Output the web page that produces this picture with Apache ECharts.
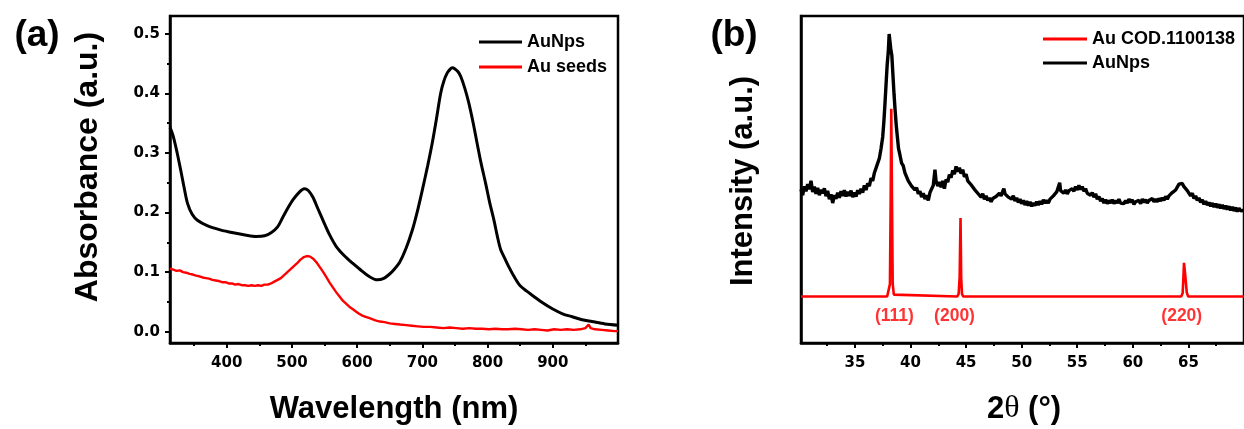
<!DOCTYPE html>
<html><head><meta charset="utf-8">
<script src="https://cdn.jsdelivr.net/npm/echarts@6/dist/echarts.min.js"></script>
<style>html,body{margin:0;padding:0;background:#fff}#c{width:1244px;height:429px}</style>
</head><body><div id="c"></div>
<script>
const uvTicks = [400,500,600,700,800,900];
const uvMinorTicks = [350,450,550,650,750,850,950];
const absTicks = [0,0.1,0.2,0.3,0.4,0.5];
const absMinorTicks = [0.05,0.15,0.25,0.35,0.45];
const xrdTicks = [35,40,45,50,55,60,65];
const xrdMinorTicks = [32.5,37.5,42.5,47.5,52.5,57.5,62.5,67.5];

const auNpsUv = [
[313,0.343],[318,0.328],[324,0.300],[330,0.268],[335,0.240],[340,0.215],[347,0.197],[355,0.187],[370,0.178],[390,0.171],[410,0.166],[430,0.162],[445,0.160],[458,0.161],[468,0.166],[478,0.176],[486,0.192],[494,0.208],[502,0.222],[511,0.234],[519,0.240],[525,0.237],[532,0.226],[540,0.206],[548,0.186],[558,0.162],[568,0.143],[580,0.128],[593,0.115],[605,0.104],[618,0.093],[631,0.087],[640,0.089],[649,0.096],[657,0.105],[665,0.116],[675,0.140],[685,0.172],[693,0.205],[700,0.238],[708,0.278],[715,0.316],[722,0.360],[728,0.400],[733,0.421],[738,0.434],[742,0.440],[746,0.443],[750,0.441],[755,0.436],[759,0.428],[765,0.409],[771,0.385],[778,0.350],[784,0.316],[790,0.283],[797,0.249],[803,0.218],[810,0.186],[815,0.160],[820,0.138],[826,0.124],[833,0.108],[842,0.090],[850,0.077],[860,0.068],[870,0.060],[885,0.048],[900,0.038],[915,0.030],[930,0.025],[945,0.020],[960,0.017],[980,0.013],[1000,0.011]
];
const auSeedsUv = [
[313,0.106],[318,0.104],[323,0.102],[328,0.103],[333,0.100],[338,0.099],[343,0.097],[348,0.096],[353,0.094],[358,0.093],[363,0.091],[368,0.090],[373,0.089],[378,0.087],[383,0.086],[388,0.085],[393,0.083],[398,0.083],[403,0.081],[408,0.081],[413,0.079],[418,0.080],[423,0.078],[428,0.078],[433,0.077],[438,0.078],[443,0.077],[448,0.078],[453,0.077],[458,0.079],[463,0.079],[468,0.081],[473,0.084],[478,0.087],[483,0.090],[488,0.095],[493,0.100],[498,0.105],[503,0.110],[508,0.115],[513,0.121],[518,0.125],[523,0.127],[528,0.126],[533,0.122],[538,0.116],[543,0.108],[548,0.100],[553,0.091],[558,0.082],[563,0.074],[568,0.066],[573,0.059],[578,0.052],[583,0.047],[588,0.042],[593,0.038],[598,0.034],[603,0.030],[608,0.027],[613,0.025],[618,0.023],[623,0.021],[628,0.019],[635,0.017],[642,0.016],[650,0.014],[658,0.013],[666,0.012],[675,0.011],[684,0.010],[693,0.009],[702,0.008],[712,0.008],[722,0.007],[732,0.006],[742,0.007],[752,0.006],[762,0.005],[772,0.006],[782,0.005],[792,0.005],[802,0.004],[812,0.005],[822,0.004],[832,0.004],[842,0.005],[852,0.004],[862,0.003],[872,0.004],[882,0.003],[892,0.002],[902,0.004],[912,0.003],[922,0.004],[932,0.003],[942,0.004],[950,0.006],[955,0.012],[958,0.006],[965,0.004],[975,0.003],[985,0.002],[995,0.001],[1000,0.001]
];

const auNpsXrd = [
[30.15,47.0],[30.3,45.2],[30.45,47.9],[30.6,46.4],[30.75,48.6],[30.9,47.0],[31.05,49.6],[31.2,46.2],[31.35,47.8],[31.5,45.6],[31.65,47.4],[31.8,45.2],[31.95,46.9],[32.1,45.8],[32.25,47.3],[32.4,44.9],[32.55,46.5],[32.7,44.0],[32.85,45.5],[33.0,42.8],[33.15,45.2],[33.3,44.1],[33.45,46.0],[33.6,44.4],[33.75,46.4],[33.9,45.0],[34.05,46.7],[34.2,44.8],[34.35,46.2],[34.5,45.0],[34.65,46.6],[34.8,44.6],[34.95,46.0],[35.1,44.8],[35.25,46.7],[35.4,45.6],[35.55,47.2],[35.7,46.0],[35.85,48.2],[36.0,46.8],[36.15,48.8],[36.3,48.0],[36.45,50.4],[36.6,49.6],[36.75,52.0],[36.9,52.4],[37.05,55.0],[37.2,56.5],[37.35,59.5],[37.5,63.0],[37.6,67.5],[37.7,73.0],[37.8,79.0],[37.9,85.0],[38.0,89.0],[38.08,94.5],[38.16,92.0],[38.24,89.5],[38.32,88.0],[38.42,82.0],[38.52,76.0],[38.62,71.0],[38.72,66.5],[38.82,63.0],[38.92,59.5],[39.05,57.5],[39.2,55.0],[39.35,54.2],[39.5,52.0],[39.65,51.5],[39.8,49.6],[39.95,50.2],[40.1,48.0],[40.25,48.6],[40.4,46.8],[40.55,47.5],[40.7,45.6],[40.85,46.4],[41.0,44.6],[41.15,45.8],[41.3,44.0],[41.45,45.2],[41.6,43.6],[41.75,46.0],[41.9,46.6],[42.05,48.2],[42.2,53.0],[42.3,49.5],[42.45,48.0],[42.6,49.2],[42.75,47.6],[42.9,49.6],[43.05,47.2],[43.2,50.0],[43.35,49.2],[43.5,51.5],[43.65,50.6],[43.8,52.8],[43.95,51.6],[44.1,54.0],[44.25,52.4],[44.4,53.6],[44.55,51.8],[44.7,53.0],[44.85,50.8],[45.0,51.6],[45.15,49.6],[45.3,50.2],[45.45,48.4],[45.6,49.0],[45.75,47.0],[45.9,47.6],[46.05,45.8],[46.2,46.4],[46.35,44.6],[46.5,45.6],[46.65,44.0],[46.8,45.0],[46.95,43.6],[47.1,44.4],[47.25,43.2],[47.4,44.2],[47.55,43.6],[47.7,44.8],[47.85,44.6],[48.0,45.8],[48.15,45.0],[48.3,46.4],[48.4,47.2],[48.5,45.6],[48.65,46.0],[48.8,44.6],[48.95,45.2],[49.1,44.0],[49.25,45.0],[49.4,43.4],[49.55,44.4],[49.7,43.0],[49.85,44.0],[50.0,42.6],[50.15,43.6],[50.3,42.2],[50.45,43.4],[50.6,42.0],[50.75,43.2],[50.9,41.8],[51.05,42.8],[51.2,42.0],[51.35,43.2],[51.5,42.2],[51.65,43.4],[51.8,42.4],[51.95,43.8],[52.1,42.8],[52.25,43.6],[52.4,42.8],[52.55,44.0],[52.7,43.6],[52.85,45.0],[53.0,44.6],[53.15,46.2],[53.3,45.6],[53.42,49.0],[53.5,46.6],[53.65,47.2],[53.8,45.8],[53.95,46.8],[54.1,45.6],[54.25,46.6],[54.4,46.0],[54.55,47.2],[54.7,46.4],[54.85,47.8],[55.0,46.8],[55.15,48.2],[55.3,47.0],[55.45,47.8],[55.6,46.4],[55.75,47.2],[55.9,45.8],[56.05,46.4],[56.2,45.2],[56.35,46.0],[56.5,44.6],[56.65,45.6],[56.8,44.0],[56.95,44.8],[57.1,43.4],[57.25,44.2],[57.4,42.8],[57.55,43.8],[57.7,42.6],[57.85,43.6],[58.0,42.8],[58.15,43.8],[58.3,42.6],[58.45,43.6],[58.6,42.8],[58.75,44.0],[58.9,42.8],[59.05,43.4],[59.2,42.6],[59.35,43.6],[59.5,42.8],[59.65,44.0],[59.8,43.0],[59.95,43.8],[60.1,42.4],[60.25,43.2],[60.4,42.6],[60.55,43.6],[60.7,42.6],[60.85,44.0],[61.0,43.0],[61.15,43.8],[61.3,42.8],[61.45,43.6],[61.6,43.0],[61.75,44.2],[61.9,43.2],[62.05,44.0],[62.2,43.2],[62.35,44.2],[62.5,43.4],[62.65,44.4],[62.8,43.6],[62.95,44.8],[63.1,44.0],[63.25,45.0],[63.4,44.8],[63.55,46.0],[63.7,45.6],[63.85,46.8],[64.0,47.0],[64.15,48.6],[64.3,48.2],[64.45,48.8],[64.6,47.8],[64.75,48.2],[64.9,46.6],[65.05,46.4],[65.2,45.0],[65.35,45.8],[65.5,44.2],[65.65,45.0],[65.8,43.6],[65.95,44.4],[66.1,43.0],[66.25,43.8],[66.4,42.4],[66.55,43.4],[66.7,42.2],[66.85,43.0],[67.0,41.8],[67.15,42.8],[67.3,41.6],[67.45,42.6],[67.6,41.4],[67.75,42.4],[67.9,41.2],[68.05,42.2],[68.2,41.0],[68.35,42.0],[68.5,40.8],[68.65,41.8],[68.8,40.6],[68.95,41.6],[69.1,40.4],[69.25,41.4],[69.4,40.2],[69.55,41.2],[69.7,40.4],[69.85,41.0],[70.0,40.6]
];
const auCodXrd = [
[30.15,14.2],[37.9,14.2],[38.05,14.8],[38.15,18],[38.22,45],[38.27,71.6],[38.33,45],[38.4,18],[38.5,14.8],[38.65,14.2],
[44.2,14.2],[44.33,15],[44.42,20],[44.5,38.2],[44.56,20],[44.63,15],[44.75,14.2],
[64.35,14.2],[64.48,15.2],[64.55,20],[64.6,24.5],[64.68,22],[64.76,19],[64.85,15.5],[64.98,14.2],[70,14.2]
];
const hklLabels = ['(111)','(200)','(220)'];
const hklAngles = [38.55,43.96,64.4];
const hklLabelLevel = 8.3;

const BOLD = 'Liberation Sans, Arial, sans-serif';
const TICKF = 'DejaVu Sans, sans-serif';

function mainX(grid, min, max, ticks, fmt) {
  return {
    type:'value', gridIndex:grid, min:min, max:max, position:'bottom',
    axisLine:{show:true, onZero:false, lineStyle:{color:'#000', width:2.5}},
    axisTick:{show:true, customValues:ticks, length:5, lineStyle:{color:'#000', width:2}},
    axisLabel:{show:true, customValues:ticks, margin:13, color:'#000', fontFamily:TICKF, fontWeight:'bold', fontSize:15, formatter:fmt},
    splitLine:{show:false}
  };
}
function minorX(grid, min, max, ticks) {
  return {
    type:'value', gridIndex:grid, min:min, max:max, position:'bottom',
    axisLine:{show:false, onZero:false},
    axisTick:{show:true, customValues:ticks, length:3, lineStyle:{color:'#000', width:2}},
    axisLabel:{show:false}, splitLine:{show:false}
  };
}

const chart = echarts.init(document.getElementById('c'), null, {renderer:'canvas'});
chart.setOption({
  animation:false,
  backgroundColor:'#fff',
  grid:[
    {left:170, right:626, top:16, bottom:86, show:true, borderColor:'#000', borderWidth:2.5, backgroundColor:'transparent'},
    {left:801, right:-7.7, top:16, bottom:86, show:true, borderColor:'#000', borderWidth:2.5, backgroundColor:'transparent'}
  ],
  xAxis:[
    mainX(0, 313, 1000, uvTicks, v => String(v)),
    minorX(0, 313, 1000, uvMinorTicks),
    mainX(1, 30.15, 70, xrdTicks, v => String(v)),
    minorX(1, 30.15, 70, xrdMinorTicks)
  ],
  yAxis:[
    {type:'value', gridIndex:0, min:-0.019, max:0.53, position:'left',
     axisLine:{show:true, onZero:false, lineStyle:{color:'#000', width:2.5}},
     axisTick:{show:true, customValues:absTicks, length:5, lineStyle:{color:'#000', width:2}},
     axisLabel:{show:true, customValues:absTicks, margin:10, color:'#000', fontFamily:TICKF, fontWeight:'bold', fontSize:15, formatter:v => v.toFixed(1)},
     splitLine:{show:false}},
    {type:'value', gridIndex:0, min:-0.019, max:0.53, position:'left',
     axisLine:{show:false, onZero:false},
     axisTick:{show:true, customValues:absMinorTicks, length:3, lineStyle:{color:'#000', width:2}},
     axisLabel:{show:false}, splitLine:{show:false}},
    {type:'value', gridIndex:1, min:0, max:100, position:'left',
     axisLine:{show:true, onZero:false, lineStyle:{color:'#000', width:2.5}},
     axisTick:{show:false}, axisLabel:{show:false}, splitLine:{show:false}}
  ],
  legend:[
    {data:['AuNps','Au seeds'], orient:'vertical', left:479, top:33, padding:0, itemWidth:43, itemHeight:3, itemGap:7, icon:'rect', selectedMode:false,
     textStyle:{fontFamily:BOLD, fontWeight:'bold', fontSize:18, color:'#000'}},
    {data:['Au COD.1100138','AuNps'], orient:'vertical', left:1043, top:30, padding:0, itemWidth:44, itemHeight:3, itemGap:6, icon:'rect', selectedMode:false,
     textStyle:{fontFamily:BOLD, fontWeight:'bold', fontSize:18, color:'#000'}}
  ],
  series:[
    {type:'line', name:'AuNps', xAxisIndex:0, yAxisIndex:0, data:auNpsUv, smooth:0.3, symbol:'none',
     itemStyle:{color:'#000'}, lineStyle:{color:'#000', width:3}},
    {type:'line', name:'Au seeds', xAxisIndex:0, yAxisIndex:0, data:auSeedsUv, symbol:'none',
     itemStyle:{color:'#ff0000'}, lineStyle:{color:'#ff0000', width:2.4}},
    {type:'line', name:'Au COD.1100138', xAxisIndex:2, yAxisIndex:2, data:auCodXrd, symbol:'none',
     itemStyle:{color:'#ff0000'}, lineStyle:{color:'#ff0000', width:2.6}},
    {type:'line', name:'AuNps', xAxisIndex:2, yAxisIndex:2, data:auNpsXrd, symbol:'none',
     itemStyle:{color:'#000'}, lineStyle:{color:'#000', width:3.4}},
    {type:'scatter', name:'hkl', xAxisIndex:2, yAxisIndex:2, symbolSize:1, silent:true,
     itemStyle:{color:'rgba(0,0,0,0)'},
     data: hklLabels.map((t,i) => ({value:[hklAngles[i], hklLabelLevel], name:t})),
     label:{show:true, position:'inside', formatter: p => p.name, color:'#ff0000', fontFamily:BOLD, fontWeight:'bold', fontSize:17.5}}
  ],
  graphic:[
    {type:'text', x:37, y:36, style:{text:'(a)', fontFamily:BOLD, fontWeight:'bold', fontSize:37, fill:'#000', align:'center', verticalAlign:'middle'}},
    {type:'text', x:734, y:36, style:{text:'(b)', fontFamily:BOLD, fontWeight:'bold', fontSize:37, fill:'#000', align:'center', verticalAlign:'middle'}},
    {type:'text', x:88, y:167, rotation:Math.PI/2, style:{text:'Absorbance (a.u.)', fontFamily:BOLD, fontWeight:'bold', fontSize:32, fill:'#000', align:'center', verticalAlign:'middle'}},
    {type:'text', x:394, y:409, style:{text:'Wavelength (nm)', fontFamily:BOLD, fontWeight:'bold', fontSize:31, fill:'#000', align:'center', verticalAlign:'middle'}},
    {type:'text', x:743, y:181, rotation:Math.PI/2, style:{text:'Intensity (a.u.)', fontFamily:BOLD, fontWeight:'bold', fontSize:31, fill:'#000', align:'center', verticalAlign:'middle'}},
    {type:'text', x:1024, y:409, style:{text:'{n|2}{t|θ}{n| (°)}', align:'center', verticalAlign:'middle', fill:'#000',
      rich:{n:{fontFamily:BOLD, fontWeight:'bold', fontSize:31, fill:'#000'}, t:{fontFamily:'Liberation Serif, serif', fontSize:32, fill:'#000'}}}}
  ]
});
</script></body></html>
